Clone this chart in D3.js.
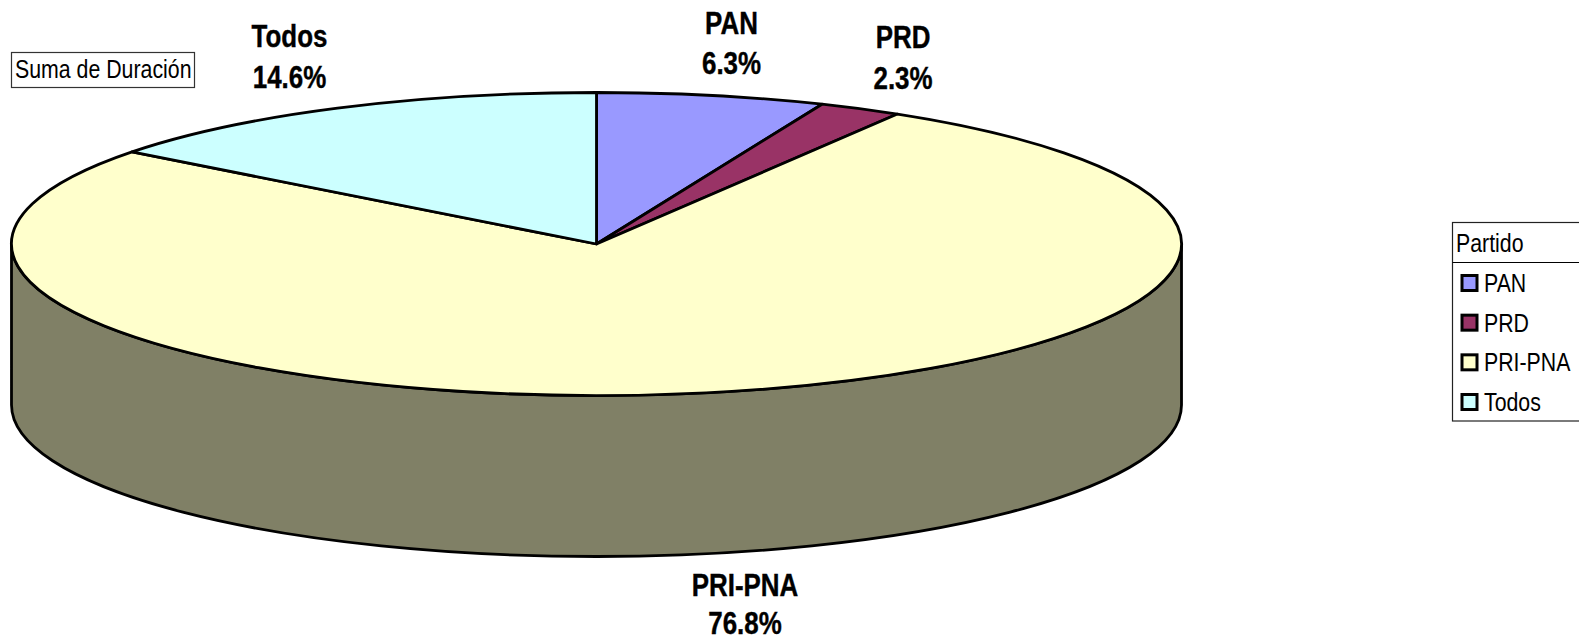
<!DOCTYPE html>
<html>
<head>
<meta charset="utf-8">
<script src="https://cdn.jsdelivr.net/npm/d3@7"></script>
<style>
html,body{margin:0;padding:0;background:#fff;overflow:hidden}
svg{display:block}
text{font-family:"Liberation Sans",Arial,sans-serif;fill:#000}
</style>
</head>
<body>
<div id="chart"></div>
<script>
const categories = ["PAN", "PRD", "PRI-PNA", "Todos"];
const shares = [6.3, 2.3, 76.8, 14.6];
const colours = ["#9999ff", "#993366", "#ffffcc", "#ccffff"];
const sideColour = "#808066";
const seriesTitle = "Suma de Duración";
const legendTitle = "Partido";

const W = 1579, H = 641;
const cx = 596.5, cy = 244, rx = 585, ry = 151.5, depth = 161;
const k = ry / rx;

const svg = d3.select("#chart").append("svg").attr("width", W).attr("height", H);

const pie = d3.pie().sort(null).value(d => d.share);
const arcs = pie(categories.map((name, i) => ({name, share: shares[i], colour: colours[i]})));
const arc = d3.arc().innerRadius(0).outerRadius(rx);

const plate = svg.append("g").attr("transform", `translate(${cx},${cy}) scale(1,${k})`);

const d0 = depth / k;
const wall = d3.path();
wall.moveTo(rx, 0);
wall.lineTo(rx, d0);
wall.arc(0, d0, rx, 0, Math.PI, false);
wall.lineTo(-rx, 0);
wall.arc(0, 0, rx, Math.PI, 0, true);
wall.closePath();
plate.append("path").attr("d", wall.toString())
  .attr("fill", sideColour).attr("stroke", "#000").attr("stroke-width", 2.8)
  .attr("vector-effect", "non-scaling-stroke").attr("stroke-linejoin", "round");

plate.selectAll("path.slice").data(arcs).join("path")
  .attr("class", "slice")
  .attr("d", arc)
  .attr("fill", d => d.data.colour)
  .attr("stroke", "#000").attr("stroke-width", 2.8)
  .attr("stroke-linejoin", "round")
  .attr("vector-effect", "non-scaling-stroke");

function label(parent, str, x, y, size, sx, anchor, weight) {
  return parent.append("text")
    .attr("transform", `translate(${x},${y}) scale(${sx},1)`)
    .attr("text-anchor", anchor)
    .attr("font-size", size)
    .attr("font-weight", weight)
    .attr("stroke", weight === "bold" ? "#000" : "none")
    .attr("stroke-width", weight === "bold" ? 0.4 : 0)
    .text(str);
}

const pct = d3.format(".1f");
const labelPos = {
  "PAN": [731.5, 33.5, 73.5],
  "PRD": [903, 48, 88.5],
  "PRI-PNA": [745, 596, 634],
  "Todos": [289.5, 47, 87.5]
};
arcs.forEach(a => {
  const [x, y1, y2] = labelPos[a.data.name];
  label(svg, a.data.name, x, y1, 32, 0.81, "middle", "bold");
  label(svg, pct(a.data.share) + "%", x, y2, 32, 0.81, "middle", "bold");
});

svg.append("rect").attr("x", 11.5).attr("y", 52.5).attr("width", 183).attr("height", 35)
  .attr("fill", "#fff").attr("stroke", "#333").attr("stroke-width", 1.2);
label(svg, seriesTitle, 15, 78, 26, 0.82, "start", "normal");

const lg = svg.append("g");
lg.append("rect").attr("x", 1452.5).attr("y", 222.5).attr("width", 140).attr("height", 198.5)
  .attr("fill", "#fff").attr("stroke", "#222").attr("stroke-width", 1.2);
lg.append("line").attr("x1", 1452.5).attr("x2", 1579).attr("y1", 262.5).attr("y2", 262.5)
  .attr("stroke", "#000").attr("stroke-width", 1);
label(lg, legendTitle, 1456, 251.5, 26, 0.82, "start", "normal");

const rowY = d3.scalePoint().domain(categories).range([283, 402]);
categories.forEach((name, i) => {
  lg.append("rect").attr("x", 1462).attr("y", rowY(name) - 7.5).attr("width", 15).attr("height", 15)
    .attr("fill", colours[i]).attr("stroke", "#000").attr("stroke-width", 3);
  label(lg, name, 1484, rowY(name) + 9, 26, 0.82, "start", "normal");
});
</script>
</body>
</html>
